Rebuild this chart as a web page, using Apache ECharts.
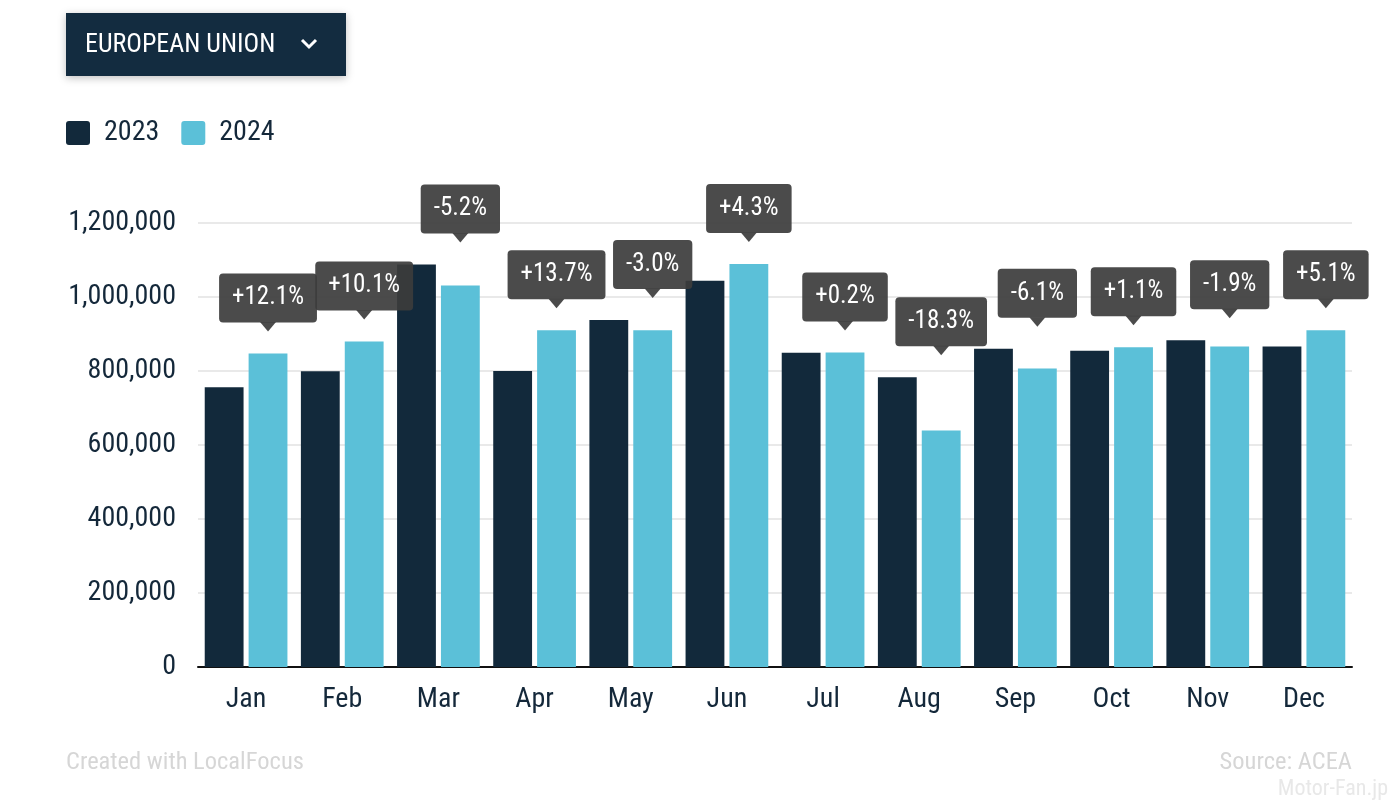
<!DOCTYPE html>
<html>
<head>
<meta charset="utf-8">
<script src="https://cdn.jsdelivr.net/npm/echarts@6/dist/echarts.min.js"></script>
<style>
html,body{margin:0;padding:0;background:#fff;}
#chart{width:1400px;height:809px;}
</style>
</head>
<body>
<div id="chart"></div>
<script>
const months = ['Jan','Feb','Mar','Apr','May','Jun','Jul','Aug','Sep','Oct','Nov','Dec'];
const sales2023 = [756000, 799000, 1088000, 800000, 938000, 1044000, 849000, 783000, 860000, 855000, 883000, 866000];
const sales2024 = [847000, 880000, 1031000, 910000, 910000, 1089000, 850000, 639000, 807000, 864000, 866000, 910000];
const changePct = [12.1, 10.1, -5.2, 13.7, -3.0, 4.3, 0.2, -18.3, -6.1, 1.1, -1.9, 5.1];
const seriesNames = ['2023', '2024'];

const FONT = "'Roboto Condensed', Roboto, sans-serif";
const DARK = '#12293b';
const LIGHT = '#5bc0d8';
const TEXT = '#14283a';

const labelData = months.map((m, i) => [i, Math.max(sales2023[i], sales2024[i]), changePct[i]]);

function fmtPct(v) {
  return (v > 0 ? '+' : '') + v.toFixed(1) + '%';
}

const chart = echarts.init(document.getElementById('chart'), null, {renderer: 'canvas'});

chart.setOption({
  animation: false,
  backgroundColor: '#fff',
  textStyle: {fontFamily: FONT},
  grid: {left: 198, right: 48, top: 223, bottom: 142, containLabel: false},
  legend: {
    left: 66, top: 119, padding: 0,
    itemWidth: 24, itemHeight: 24, itemGap: 22,
    icon: 'path://M3,0 L21,0 Q24,0 24,3 L24,21 Q24,24 21,24 L3,24 Q0,24 0,21 L0,3 Q0,0 3,0 Z',
    data: seriesNames,
    textStyle: {fontFamily: FONT, fontSize: 28, color: TEXT, padding: [0, 0, 0, 9]}
  },
  xAxis: {
    type: 'category',
    data: months,
    axisLine: {show: true, lineStyle: {color: '#111', width: 2}},
    axisTick: {show: false},
    axisLabel: {fontFamily: FONT, fontSize: 28, color: TEXT, margin: 19}
  },
  yAxis: {
    type: 'value',
    min: 0, max: 1200000, interval: 200000,
    axisLine: {show: false},
    axisTick: {show: false},
    splitLine: {lineStyle: {color: '#e2e2e2', width: 1.5}},
    axisLabel: {
      fontFamily: FONT, fontSize: 28, color: TEXT, margin: 22,
      formatter: v => v.toLocaleString('en-US')
    }
  },
  series: [
    {
      name: seriesNames[0], type: 'bar', data: sales2023,
      itemStyle: {color: DARK},
      barCategoryGap: '14%', barGap: '13%'
    },
    {
      name: seriesNames[1], type: 'bar', data: sales2024,
      itemStyle: {color: LIGHT},
      barCategoryGap: '14%', barGap: '13%'
    },
    {
      type: 'custom',
      z: 10,
      silent: true,
      data: labelData,
      renderItem: function (params, api) {
        const pt = api.coord([api.value(0), api.value(1)]);
        const band = api.size([1, 0])[0];
        const barW = band * 0.86 / 2.13;
        const cx = pt[0] + (barW * 1.13) / 2;
        const tipY = pt[1] - 22;
        const boxBottom = tipY - 9;
        const color = 'rgba(60,60,60,0.92)';
        return {
          type: 'group',
          children: [
            {
              type: 'polygon',
              shape: {points: [[cx - 8, boxBottom - 0.5], [cx + 8, boxBottom - 0.5], [cx, tipY]]},
              style: {fill: color}
            },
            {
              type: 'text',
              x: cx, y: boxBottom,
              style: {
                text: fmtPct(api.value(2)),
                font: "25px " + FONT,
                fill: '#fff',
                align: 'center',
                verticalAlign: 'bottom',
                backgroundColor: color,
                padding: [12, 13, 12, 13],
                borderRadius: 4
              }
            }
          ]
        };
      }
    }
  ],
  graphic: [
    {
      type: 'rect',
      shape: {x: 66, y: 13, width: 280, height: 63},
      style: {fill: '#132c40', shadowBlur: 8, shadowColor: 'rgba(0,0,0,0.25)', shadowOffsetY: 2}
    },
    {
      type: 'text',
      x: 85, y: 45,
      style: {text: 'EUROPEAN UNION', font: "26px " + FONT, fill: '#fff', verticalAlign: 'middle'}
    },
    {
      type: 'polyline',
      shape: {points: [[302, 40], [309, 47], [316, 40]]},
      style: {stroke: '#fff', lineWidth: 3, fill: null}
    },
    {
      type: 'text',
      x: 66, y: 763,
      style: {text: 'Created with LocalFocus', font: "24.5px " + FONT, fill: '#d6d6d6', verticalAlign: 'middle'}
    },
    {
      type: 'text',
      x: 1352, y: 763,
      style: {text: 'Source: ACEA', font: "24.5px " + FONT, fill: '#d6d6d6', align: 'right', verticalAlign: 'middle'}
    },
    {
      type: 'text',
      x: 1388, y: 789,
      style: {text: 'Motor-Fan.jp', font: "22px " + FONT, fill: '#e8e8e8', align: 'right', verticalAlign: 'middle'}
    }
  ]
});
</script>
</body>
</html>
